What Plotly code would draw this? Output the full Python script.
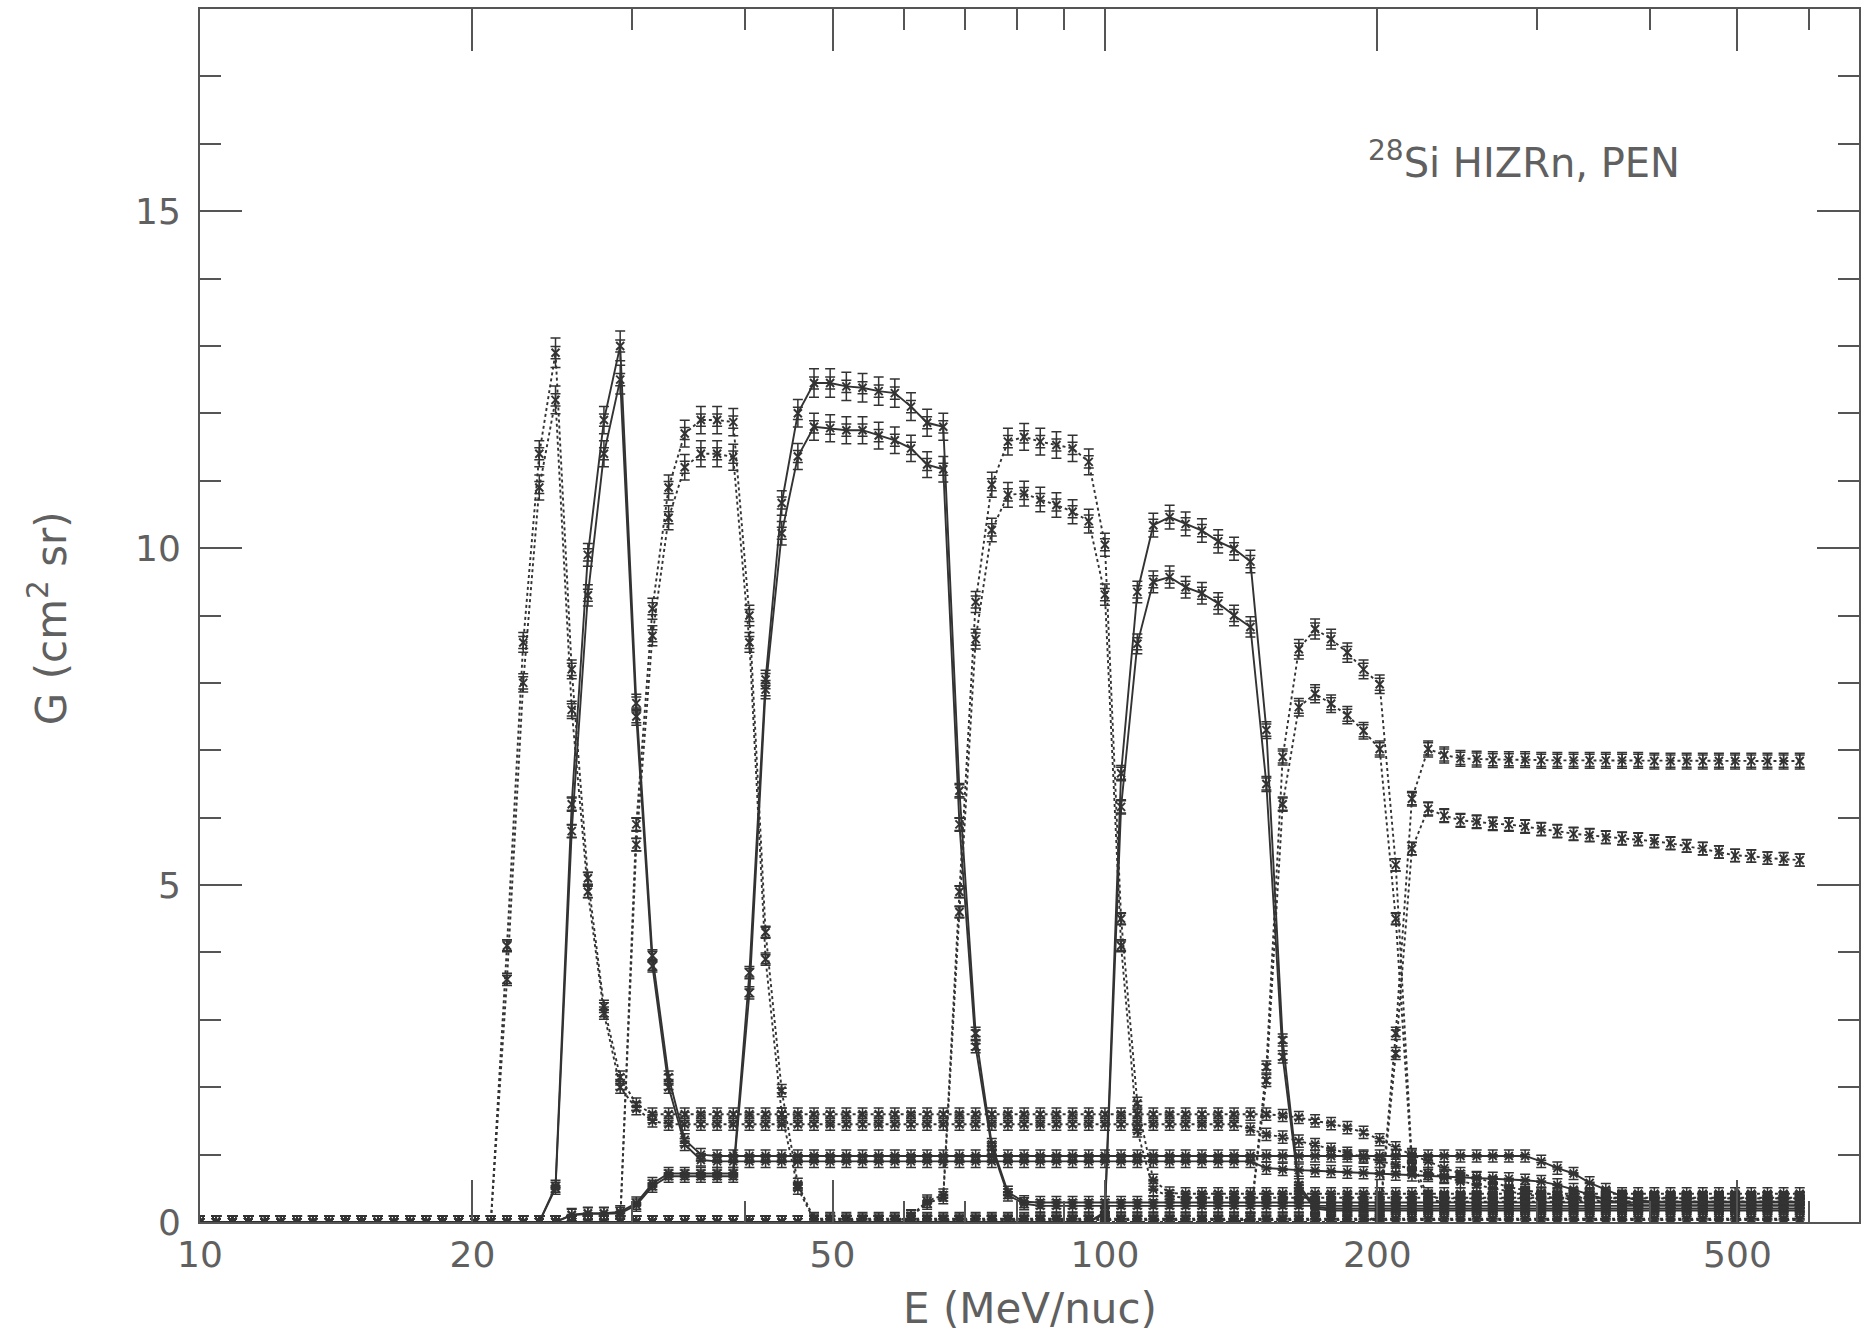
import plotly.graph_objects as go

# Energy grid (MeV/nuc), read from the point spacing
E = [10.00, 10.42, 10.86, 11.31, 11.79, 12.28, 12.80, 13.33, 13.89, 14.48,
     15.08, 15.72, 16.38, 17.07, 17.78, 18.53, 19.31, 20.12, 20.96, 21.84,
     22.76, 23.71, 24.71, 25.75, 26.83, 27.95, 29.13, 30.35, 31.62, 32.95,
     34.33, 35.77, 37.28, 38.84, 40.47, 42.17, 43.94, 45.78, 47.70, 49.70,
     51.79, 53.97, 56.23, 58.59, 61.05, 63.61, 66.28, 69.06, 71.97, 74.99,
     78.13, 81.42, 84.83, 88.39, 92.10, 95.97, 100.0, 104.2, 108.6, 113.1,
     117.9, 122.8, 128.0, 133.4, 138.9, 144.8, 150.8, 157.2, 163.8, 170.7,
     177.8, 185.3, 193.1, 201.2, 209.6, 218.4, 227.6, 237.1, 247.1, 257.5,
     268.3, 279.5, 291.3, 303.5, 316.2, 329.5, 343.3, 357.7, 372.8, 388.4,
     404.7, 421.7, 439.4, 457.8, 477.0, 497.0, 517.9, 539.7, 562.3, 585.9]

R1a = [0, 0, 0, 0, 0, 0, 0, 0, 0, 0,
       0, 0, 0, 0, 0, 0, 0, 0, 0, 4.1,
       8.6, 11.4, 12.9, 8.2, 5.1, 3.2, 2.15, 1.75, 1.6, 1.6,
       1.6, 1.6, 1.6, 1.6, 1.6, 1.6, 1.6, 1.6, 1.6, 1.6,
       1.6, 1.6, 1.6, 1.6, 1.6, 1.6, 1.6, 1.6, 1.6, 1.6,
       1.6, 1.6, 1.6, 1.6, 1.6, 1.6, 1.6, 1.6, 1.6, 1.6,
       1.6, 1.6, 1.6, 1.6, 1.6, 1.6, 1.6, 1.58, 1.55, 1.5,
       1.46, 1.4, 1.33, 1.22, 1.1, 1.0, 0.9, 0.8, 0.72, 0.65,
       0.58, 0.52, 0.47, 0.43, 0.4, 0.38, 0.37, 0.36, 0.36, 0.35,
       0.35, 0.35, 0.35, 0.35, 0.35, 0.35, 0.35, 0.35, 0.35, 0.35]
R1b = [0, 0, 0, 0, 0, 0, 0, 0, 0, 0,
       0, 0, 0, 0, 0, 0, 0, 0, 0, 3.6,
       8.0, 10.9, 12.2, 7.6, 4.9, 3.1, 2.0, 1.68, 1.5, 1.45,
       1.45, 1.45, 1.45, 1.45, 1.45, 1.45, 1.45, 1.45, 1.45, 1.45,
       1.45, 1.45, 1.45, 1.45, 1.45, 1.45, 1.45, 1.45, 1.45, 1.45,
       1.45, 1.45, 1.45, 1.45, 1.45, 1.45, 1.45, 1.45, 1.45, 1.45,
       1.45, 1.45, 1.45, 1.45, 1.45, 1.38, 1.3, 1.26, 1.2, 1.15,
       1.08, 1.02, 0.96, 0.9, 0.84, 0.78, 0.72, 0.66, 0.6, 0.55,
       0.5, 0.45, 0.41, 0.38, 0.35, 0.33, 0.32, 0.31, 0.31, 0.3,
       0.3, 0.3, 0.3, 0.3, 0.3, 0.3, 0.3, 0.3, 0.3, 0.3]
R2a = [0, 0, 0, 0, 0, 0, 0, 0, 0, 0,
       0, 0, 0, 0, 0, 0, 0, 0, 0, 0,
       0, 0, 0.53, 6.2, 9.9, 11.9, 13.0, 7.7, 3.95, 2.15,
       1.22, 1.0, 0.98, 0.98, 0.98, 0.98, 0.98, 0.98, 0.98, 0.98,
       0.98, 0.98, 0.98, 0.98, 0.98, 0.98, 0.98, 0.98, 0.98, 0.98,
       0.98, 0.98, 0.98, 0.98, 0.98, 0.98, 0.98, 0.98, 0.98, 0.98,
       0.98, 0.98, 0.98, 0.98, 0.98, 0.98, 0.98, 0.98, 0.98, 0.98,
       0.98, 0.98, 0.98, 0.98, 0.98, 0.98, 0.98, 0.98, 0.98, 0.98,
       0.98, 0.98, 0.98, 0.9, 0.8, 0.72, 0.58, 0.48, 0.38, 0.32,
       0.3, 0.3, 0.3, 0.3, 0.3, 0.3, 0.3, 0.3, 0.3, 0.3]
R2b = [0, 0, 0, 0, 0, 0, 0, 0, 0, 0,
       0, 0, 0, 0, 0, 0, 0, 0, 0, 0,
       0, 0, 0.5, 5.8, 9.3, 11.4, 12.5, 7.5, 3.8, 2.0,
       1.15, 0.92, 0.9, 0.9, 0.9, 0.9, 0.9, 0.9, 0.9, 0.9,
       0.9, 0.9, 0.9, 0.9, 0.9, 0.9, 0.9, 0.9, 0.9, 0.9,
       0.9, 0.9, 0.9, 0.9, 0.9, 0.9, 0.9, 0.9, 0.9, 0.9,
       0.9, 0.9, 0.9, 0.9, 0.9, 0.9, 0.8, 0.78, 0.77, 0.76,
       0.75, 0.74, 0.73, 0.72, 0.71, 0.7, 0.69, 0.68, 0.67, 0.66,
       0.65, 0.64, 0.62, 0.6, 0.55, 0.48, 0.4, 0.33, 0.28, 0.25,
       0.25, 0.25, 0.25, 0.25, 0.25, 0.25, 0.25, 0.25, 0.25, 0.25]
R3a = [0, 0, 0, 0, 0, 0, 0, 0, 0, 0,
       0, 0, 0, 0, 0, 0, 0, 0, 0, 0,
       0, 0, 0, 0, 0, 0, 0, 5.9, 9.1, 10.9,
       11.7, 11.9, 11.9, 11.87, 9.0, 4.3, 1.95, 0.56, 0.05, 0.05,
       0.05, 0.05, 0.05, 0.05, 0.05, 0.05, 0.05, 0.05, 0.05, 0.05,
       0.05, 0.05, 0.05, 0.05, 0.05, 0.05, 0.05, 0.05, 0.05, 0.05,
       0.05, 0.05, 0.05, 0.05, 0.05, 0.05, 0.05, 0.05, 0.05, 0.05,
       0.05, 0.05, 0.05, 0.05, 0.05, 0.05, 0.05, 0.05, 0.05, 0.05,
       0.05, 0.05, 0.05, 0.05, 0.05, 0.05, 0.05, 0.05, 0.05, 0.05,
       0.05, 0.05, 0.05, 0.05, 0.05, 0.05, 0.05, 0.05, 0.05, 0.05]
R3b = [0, 0, 0, 0, 0, 0, 0, 0, 0, 0,
       0, 0, 0, 0, 0, 0, 0, 0, 0, 0,
       0, 0, 0, 0, 0, 0, 0, 5.6, 8.7, 10.45,
       11.2, 11.4, 11.4, 11.35, 8.6, 3.9, 1.6, 0.5, 0.03, 0.03,
       0.03, 0.03, 0.03, 0.03, 0.03, 0.03, 0.03, 0.03, 0.03, 0.03,
       0.03, 0.03, 0.03, 0.03, 0.03, 0.03, 0.03, 0.03, 0.03, 0.03,
       0.03, 0.03, 0.03, 0.03, 0.03, 0.03, 0.03, 0.03, 0.03, 0.03,
       0.03, 0.03, 0.03, 0.03, 0.03, 0.03, 0.03, 0.03, 0.03, 0.03,
       0.03, 0.03, 0.03, 0.03, 0.03, 0.03, 0.03, 0.03, 0.03, 0.03,
       0.03, 0.03, 0.03, 0.03, 0.03, 0.03, 0.03, 0.03, 0.03, 0.03]
R4a = [0, 0, 0, 0, 0, 0, 0, 0, 0, 0,
       0, 0, 0, 0, 0, 0, 0, 0, 0, 0,
       0, 0, 0, 0.11, 0.13, 0.13, 0.15, 0.28, 0.57, 0.72,
       0.72, 0.72, 0.72, 0.72, 3.7, 8.05, 10.67, 12.0, 12.45, 12.45,
       12.4, 12.38, 12.33, 12.3, 12.1, 11.86, 11.8, 6.4, 2.8, 1.15,
       0.44, 0.3, 0.29, 0.29, 0.29, 0.29, 0.29, 0.29, 0.29, 0.29,
       0.29, 0.29, 0.29, 0.29, 0.29, 0.29, 0.29, 0.29, 0.29, 0.29,
       0.29, 0.29, 0.29, 0.29, 0.29, 0.29, 0.29, 0.29, 0.29, 0.29,
       0.29, 0.29, 0.29, 0.29, 0.29, 0.29, 0.29, 0.29, 0.29, 0.29,
       0.29, 0.29, 0.29, 0.29, 0.29, 0.29, 0.29, 0.29, 0.29, 0.29]
R4b = [0, 0, 0, 0, 0, 0, 0, 0, 0, 0,
       0, 0, 0, 0, 0, 0, 0, 0, 0, 0,
       0, 0, 0, 0.1, 0.12, 0.12, 0.13, 0.25, 0.53, 0.68,
       0.68, 0.68, 0.68, 0.68, 3.4, 7.9, 10.22, 11.36, 11.8, 11.78,
       11.75, 11.75, 11.67, 11.6, 11.48, 11.24, 11.17, 5.9, 2.6, 1.1,
       0.4, 0.27, 0.24, 0.24, 0.24, 0.24, 0.24, 0.24, 0.24, 0.24,
       0.24, 0.24, 0.24, 0.24, 0.24, 0.24, 0.24, 0.24, 0.24, 0.24,
       0.24, 0.24, 0.24, 0.24, 0.24, 0.24, 0.24, 0.24, 0.24, 0.24,
       0.24, 0.24, 0.24, 0.24, 0.24, 0.24, 0.24, 0.24, 0.24, 0.24,
       0.24, 0.24, 0.24, 0.24, 0.24, 0.24, 0.24, 0.24, 0.24, 0.24]
R5a = [0, 0, 0, 0, 0, 0, 0, 0, 0, 0,
       0, 0, 0, 0, 0, 0, 0, 0, 0, 0,
       0, 0, 0, 0, 0, 0, 0, 0, 0, 0,
       0, 0, 0, 0, 0, 0, 0, 0, 0, 0,
       0, 0, 0, 0, 0.09, 0.31, 0.4, 4.9, 9.2, 10.94,
       11.58, 11.65, 11.58, 11.53, 11.48, 11.28, 10.05, 4.5, 1.76, 0.62,
       0.43, 0.42, 0.42, 0.42, 0.42, 0.42, 0.42, 0.42, 0.42, 0.42,
       0.42, 0.42, 0.42, 0.42, 0.42, 0.42, 0.42, 0.42, 0.42, 0.42,
       0.42, 0.42, 0.42, 0.42, 0.42, 0.42, 0.42, 0.42, 0.42, 0.42,
       0.42, 0.42, 0.42, 0.42, 0.42, 0.42, 0.42, 0.42, 0.42, 0.42]
R5b = [0, 0, 0, 0, 0, 0, 0, 0, 0, 0,
       0, 0, 0, 0, 0, 0, 0, 0, 0, 0,
       0, 0, 0, 0, 0, 0, 0, 0, 0, 0,
       0, 0, 0, 0, 0, 0, 0, 0, 0, 0,
       0, 0, 0, 0, 0.08, 0.28, 0.36, 4.6, 8.65, 10.27,
       10.79, 10.81, 10.72, 10.64, 10.54, 10.4, 9.31, 4.1, 1.35, 0.48,
       0.38, 0.36, 0.36, 0.36, 0.36, 0.36, 0.36, 0.36, 0.36, 0.36,
       0.36, 0.36, 0.36, 0.36, 0.36, 0.36, 0.36, 0.36, 0.36, 0.36,
       0.36, 0.36, 0.36, 0.36, 0.36, 0.36, 0.36, 0.36, 0.36, 0.36,
       0.36, 0.36, 0.36, 0.36, 0.36, 0.36, 0.36, 0.36, 0.36, 0.36]
R6a = [0, 0, 0, 0, 0, 0, 0, 0, 0, 0,
       0, 0, 0, 0, 0, 0, 0, 0, 0, 0,
       0, 0, 0, 0, 0, 0, 0, 0, 0, 0,
       0, 0, 0, 0, 0, 0, 0, 0, 0, 0,
       0, 0, 0, 0, 0, 0, 0, 0, 0, 0,
       0, 0, 0, 0, 0, 0, 0.15, 6.66, 9.35, 10.34,
       10.46, 10.36, 10.26, 10.1, 9.99, 9.8, 7.3, 2.7, 0.55, 0.22,
       0.2, 0.2, 0.2, 0.2, 0.2, 0.2, 0.2, 0.2, 0.2, 0.2,
       0.2, 0.2, 0.2, 0.2, 0.2, 0.2, 0.2, 0.2, 0.2, 0.2,
       0.2, 0.2, 0.2, 0.2, 0.2, 0.2, 0.2, 0.2, 0.2, 0.2]
R6b = [0, 0, 0, 0, 0, 0, 0, 0, 0, 0,
       0, 0, 0, 0, 0, 0, 0, 0, 0, 0,
       0, 0, 0, 0, 0, 0, 0, 0, 0, 0,
       0, 0, 0, 0, 0, 0, 0, 0, 0, 0,
       0, 0, 0, 0, 0, 0, 0, 0, 0, 0,
       0, 0, 0, 0, 0, 0, 0.12, 6.16, 8.58, 9.5,
       9.57, 9.42, 9.33, 9.18, 9.0, 8.83, 6.5, 2.45, 0.5, 0.2,
       0.17, 0.17, 0.17, 0.17, 0.17, 0.17, 0.17, 0.17, 0.17, 0.17,
       0.17, 0.17, 0.17, 0.17, 0.17, 0.17, 0.17, 0.17, 0.17, 0.17,
       0.17, 0.17, 0.17, 0.17, 0.17, 0.17, 0.17, 0.17, 0.17, 0.17]
R7a = [0, 0, 0, 0, 0, 0, 0, 0, 0, 0,
       0, 0, 0, 0, 0, 0, 0, 0, 0, 0,
       0, 0, 0, 0, 0, 0, 0, 0, 0, 0,
       0, 0, 0, 0, 0, 0, 0, 0, 0, 0,
       0, 0, 0, 0, 0, 0, 0, 0, 0, 0,
       0, 0, 0, 0, 0, 0, 0, 0, 0, 0,
       0, 0, 0, 0, 0, 0.05, 2.3, 6.9, 8.5, 8.8,
       8.65, 8.45, 8.2, 7.98, 5.3, 0.9, 0.38, 0.35, 0.35, 0.35,
       0.35, 0.35, 0.35, 0.35, 0.35, 0.35, 0.35, 0.35, 0.35, 0.35,
       0.35, 0.35, 0.35, 0.35, 0.35, 0.35, 0.35, 0.35, 0.35, 0.35]
R7b = [0, 0, 0, 0, 0, 0, 0, 0, 0, 0,
       0, 0, 0, 0, 0, 0, 0, 0, 0, 0,
       0, 0, 0, 0, 0, 0, 0, 0, 0, 0,
       0, 0, 0, 0, 0, 0, 0, 0, 0, 0,
       0, 0, 0, 0, 0, 0, 0, 0, 0, 0,
       0, 0, 0, 0, 0, 0, 0, 0, 0, 0,
       0, 0, 0, 0, 0, 0.04, 2.1, 6.2, 7.64, 7.84,
       7.69, 7.52, 7.29, 7.02, 4.5, 0.8, 0.33, 0.3, 0.3, 0.3,
       0.3, 0.3, 0.3, 0.3, 0.3, 0.3, 0.3, 0.3, 0.3, 0.3,
       0.3, 0.3, 0.3, 0.3, 0.3, 0.3, 0.3, 0.3, 0.3, 0.3]
R8a = [0, 0, 0, 0, 0, 0, 0, 0, 0, 0,
       0, 0, 0, 0, 0, 0, 0, 0, 0, 0,
       0, 0, 0, 0, 0, 0, 0, 0, 0, 0,
       0, 0, 0, 0, 0, 0, 0, 0, 0, 0,
       0, 0, 0, 0, 0, 0, 0, 0, 0, 0,
       0, 0, 0, 0, 0, 0, 0, 0, 0, 0,
       0, 0, 0, 0, 0, 0, 0, 0, 0, 0,
       0, 0, 0, 0.1, 2.8, 6.28, 7.02, 6.93, 6.88, 6.87,
       6.86, 6.86, 6.86, 6.85, 6.85, 6.85, 6.85, 6.85, 6.85, 6.85,
       6.84, 6.84, 6.84, 6.84, 6.84, 6.84, 6.84, 6.84, 6.84, 6.84]
R8b = [0, 0, 0, 0, 0, 0, 0, 0, 0, 0,
       0, 0, 0, 0, 0, 0, 0, 0, 0, 0,
       0, 0, 0, 0, 0, 0, 0, 0, 0, 0,
       0, 0, 0, 0, 0, 0, 0, 0, 0, 0,
       0, 0, 0, 0, 0, 0, 0, 0, 0, 0,
       0, 0, 0, 0, 0, 0, 0, 0, 0, 0,
       0, 0, 0, 0, 0, 0, 0, 0, 0, 0,
       0, 0, 0, 0.08, 2.5, 5.54, 6.13, 6.03, 5.96, 5.94,
       5.91, 5.9, 5.87, 5.83, 5.8, 5.76, 5.74, 5.71, 5.69, 5.68,
       5.65, 5.62, 5.58, 5.54, 5.49, 5.44, 5.43, 5.4, 5.39, 5.37]

curves = [
    ("R1a", R1a, "dot"), ("R1b", R1b, "dot"),
    ("R2a", R2a, "solid"), ("R2b", R2b, "solid"),
    ("R3a", R3a, "dot"), ("R3b", R3b, "dot"),
    ("R4a", R4a, "solid"), ("R4b", R4b, "solid"),
    ("R5a", R5a, "dot"), ("R5b", R5b, "dot"),
    ("R6a", R6a, "solid"), ("R6b", R6b, "solid"),
    ("R7a", R7a, "dot"), ("R7b", R7b, "dot"),
    ("R8a", R8a, "dot"), ("R8b", R8b, "dot"),
]

x_tickvals = [10, 20, 50, 100, 200, 500]
x_ticktext = ["10", "20", "50", "100", "200", "500"]
x_minor = [30, 40, 60, 70, 80, 90, 300, 400, 600]
y_tickvals = [0, 5, 10, 15]
y_ticktext = ["0", "5", "10", "15"]
y_minor = [1, 2, 3, 4, 6, 7, 8, 9, 11, 12, 13, 14, 16, 17]

INK = "#333333"
AX = "#555555"
TXT = "#606060"
FONT = "DejaVu Sans"

fig = go.Figure()
for name, ys, dash in curves:
    # line, markers and the base error bar
    fig.add_trace(go.Scatter(
        x=E, y=ys, name=name, mode="lines+markers",
        line=dict(color=INK, width=1.9, dash=dash),
        marker=dict(symbol="x-thin", size=8, line=dict(color=INK, width=2), color=INK),
        error_y=dict(type="constant", value=0.09, color=INK, thickness=1.5, width=5),
        showlegend=False,
    ))
    # relative error bar, which dominates on the high points
    fig.add_trace(go.Scatter(
        x=E, y=ys, name=name + " err", mode="markers",
        marker=dict(size=1, color=INK, opacity=0),
        error_y=dict(type="percent", value=1.7, color=INK, thickness=1.5, width=5),
        showlegend=False, hoverinfo="skip",
    ))

W, H = 1864, 1335
L, R, T, B = 200, 3, 9, 113
pw, ph = W - L - R, H - T - B

fig.update_layout(
    width=W, height=H,
    margin=dict(l=L, r=R, t=T, b=B),
    paper_bgcolor="white", plot_bgcolor="white",
    font=dict(family=FONT, color=TXT),
    xaxis=dict(
        type="log", range=[1, 2.8333],
        tickvals=x_tickvals, ticktext=x_ticktext,
        ticks="inside", ticklen=42, tickwidth=1.5, tickcolor=AX,
        minor=dict(tickvals=x_minor, ticks="inside", ticklen=21, tickwidth=1.5, tickcolor=AX),
        showline=True, linecolor=AX, linewidth=2, mirror="ticks",
        showgrid=False, zeroline=False,
        tickfont=dict(size=36, color=TXT, family=FONT),
    ),
    yaxis=dict(
        range=[0, 18],
        tickvals=y_tickvals, ticktext=y_ticktext,
        ticks="inside", ticklen=42, tickwidth=1.5, tickcolor=AX,
        minor=dict(tickvals=y_minor, ticks="inside", ticklen=21, tickwidth=1.5, tickcolor=AX),
        showline=True, linecolor=AX, linewidth=2, mirror="ticks",
        showgrid=False, zeroline=False,
        tickfont=dict(size=36, color=TXT, family=FONT),
        ticklabelstandoff=10,
    ),
    annotations=[
        dict(text="E (MeV/nuc)", xref="paper", yref="paper",
             x=0.5, y=-(1308 - 1222) / ph, xanchor="center", yanchor="middle",
             showarrow=False, font=dict(size=42, color=TXT, family=FONT)),
        dict(text="G (cm<sup>2</sup> sr)", xref="paper", yref="paper",
             x=(48 - L) / pw, y=(1222 - 618) / ph, xanchor="center", yanchor="middle",
             textangle=-90, showarrow=False, font=dict(size=42, color=TXT, family=FONT)),
        dict(text="<sup>28</sup>Si HIZRn, PEN", xref="paper", yref="paper",
             x=(1367 - L) / pw, y=(1222 - 160) / ph, xanchor="left", yanchor="middle",
             showarrow=False, font=dict(size=40, color=TXT, family=FONT)),
    ],
)

fig.write_html("out.html")
